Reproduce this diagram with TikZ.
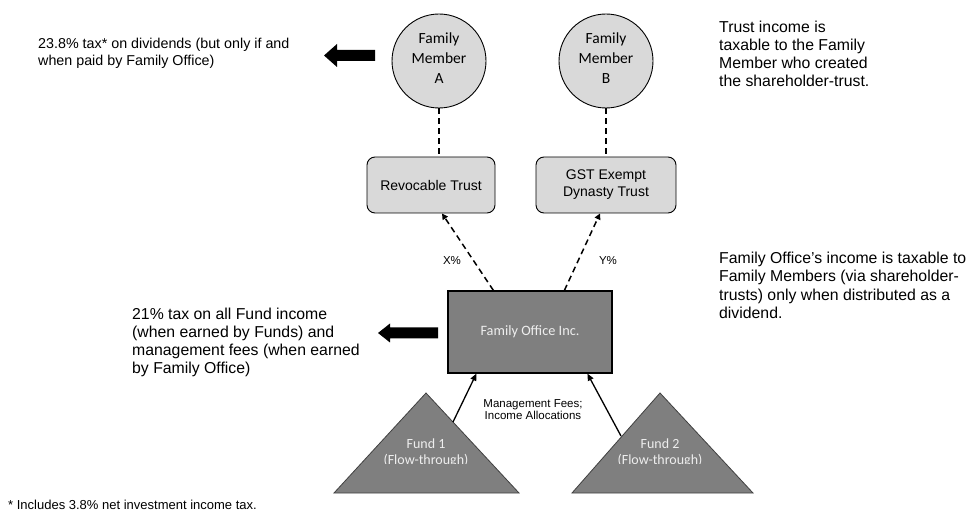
\documentclass[tikz,border=0pt]{standalone}
\usepackage{fontspec}
\setmainfont{Liberation Sans}
\newfontfamily\calfont{Carlito}
\usetikzlibrary{arrows.meta,calc}
\definecolor{lgray}{HTML}{D9D9D9}
\definecolor{dgray}{HTML}{7F7F7F}
\definecolor{wtext}{HTML}{EEEEEE}
\begin{document}
\begin{tikzpicture}[x=1bp,y=-1bp,
  person/.style={circle,draw=black,line width=0.9bp,fill=lgray,minimum size=94bp,inner sep=0pt},
  ptext/.style={align=center,inner sep=0pt,font=\calfont\fontsize{15.5bp}{20bp}\selectfont},
  trustbox/.style={rectangle,rounded corners=8bp,draw=black,line width=0.9bp,fill=lgray,minimum height=56bp,inner sep=0pt,align=center,
    font=\fontsize{14bp}{17bp}\selectfont},
  fobox/.style={rectangle,draw=black,line width=1.2bp,fill=dgray,minimum width=164bp,minimum height=82bp,inner sep=0pt,
    font=\calfont\fontsize{14.3bp}{17bp}\selectfont,text=wtext},
  tri/.style={fill=dgray,draw=black!75,line width=0.8bp},
  fundtext/.style={align=center,text=wtext,font=\calfont\fontsize{14bp}{16bp}\selectfont,inner sep=0pt},
  dashline/.style={draw=black,line width=1.5bp,dash pattern=on 6bp off 4bp},
  dasharrow/.style={dashline,-{Triangle[length=6bp,width=6bp]}},
  solarrow/.style={draw=black,line width=1.3bp,-{Triangle[length=7bp,width=6bp]}},
  note/.style={anchor=west,align=left,inner sep=0pt},
  small/.style={font=\fontsize{11.5bp}{12.8bp}\selectfont,align=center,inner sep=0pt}
]
\useasboundingbox (0,0) rectangle (971,515);

% family members
\node[person] (mA) at (439,61) {};
\node[person] (mB) at (606,61) {};
\node[ptext] (mAt) at ($(mA)+(0,-3)$) {Family\\Member\\A};
\node[ptext] (mBt) at ($(mB)+(0,-3)$) {Family\\Member\\B};

% trusts
\node[trustbox,minimum width=128bp] (rt) at (431,185) {Revocable Trust};
\node[trustbox,minimum width=140bp] (gst) at (606,185) {GST Exempt\\Dynasty Trust};

\draw[dashline] (mA.south) -- (mA.south |- rt.north);
\draw[dashline] (mB.south) -- (mB.south |- gst.north);

% family office
\node[fobox] (fo) at (530,332) {Family Office Inc.};

\draw[dasharrow] ($(fo.north west)+(46,0)$) -- ($(rt.south)+(11,0)$);
\draw[dasharrow] ($(fo.north west)+(117,0)$) -- ($(gst.south)+(-6,0)$);
\node[small] (xp) at (452,261) {X\%};
\node[small] (yp) at (608,261) {Y\%};

% funds
\draw[tri] (426,393) -- (519,493) -- (334,493) -- cycle;
\draw[tri] (660,393) -- (753,493) -- (572,493) -- cycle;
\coordinate (f1e) at (453,422);
\coordinate (f2e) at (621,436);
\begin{scope}
\clip (300,380) rectangle (780,463);
\node[fundtext] (f1) at (426,453) {Fund 1\\(Flow-through)};
\node[fundtext] (f2) at (660,453) {Fund 2\\(Flow-through)};
\end{scope}

\draw[solarrow] (f1e) -- ($(fo.south west)+(29,0)$);
\draw[solarrow] (f2e) -- ($(fo.south west)+(140,0)$);
\node[small] (mf) at (533,409.5) {Management Fees;\\Income Allocations};

% block arrows
\fill[black] (324,55.5) -- (337,44) -- (337,50) -- (375,50) -- (375,61) -- (337,61) -- (337,67) -- cycle;
\fill[black] (378,333) -- (390,323.5) -- (390,327.5) -- (438,327.5) -- (438,338.5) -- (390,338.5) -- (390,342.5) -- cycle;

% notes
\node[note,font=\fontsize{14.3bp}{17bp}\selectfont] (t1) at (38,53.5)
  {23.8\% tax* on dividends (but only if and\\when paid by Family Office)};
\node[note,font=\fontsize{15.8bp}{18bp}\selectfont] (t2) at (132,342)
  {21\% tax on all Fund income\\(when earned by Funds) and\\management fees (when earned\\by Family Office)};
\node[note,font=\fontsize{15.8bp}{18bp}\selectfont] (t3) at (719,54)
  {Trust income is\\taxable to the Family\\Member who created\\the shareholder-trust.};
\node[note,font=\fontsize{15.8bp}{18.3bp}\selectfont] (t4) at (719,285.5)
  {Family Office’s income is taxable to\\Family Members (via shareholder-\\trusts) only when distributed as a\\dividend.};
\node[note,font=\fontsize{13bp}{15bp}\selectfont] (fn) at (8,505)
  {* Includes 3.8\% net investment income tax.};
\end{tikzpicture}
\end{document}
